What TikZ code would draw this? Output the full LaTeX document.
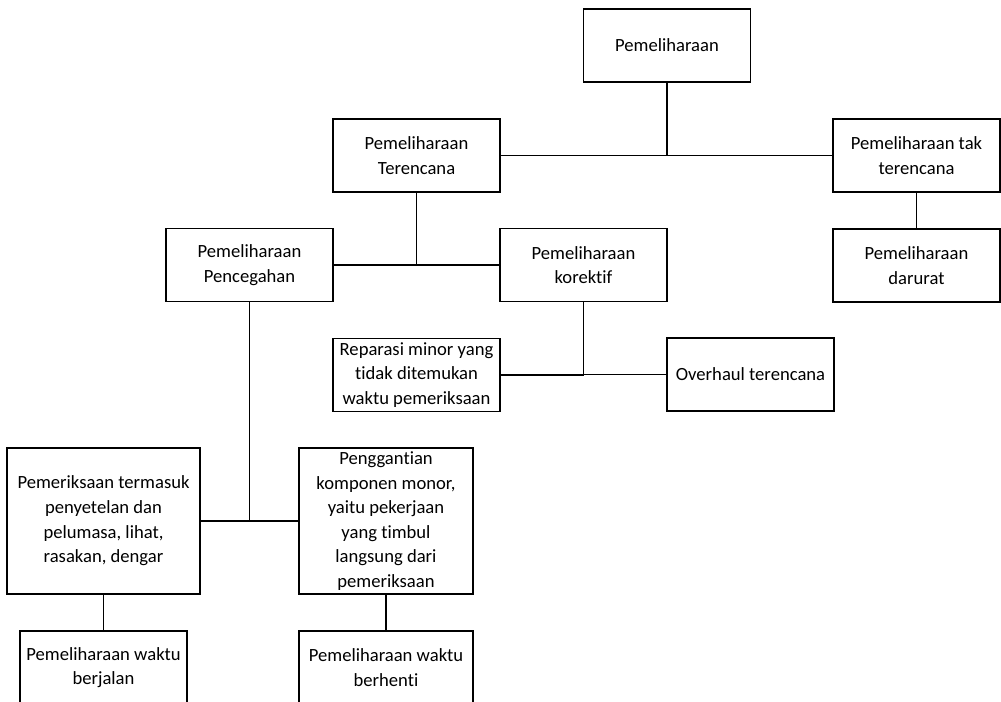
\documentclass[tikz,border=0pt]{standalone}
\usepackage{fontspec}
\setmainfont{Carlito}[Ligatures=NoCommon]
\usetikzlibrary{positioning}

\begin{document}
\begin{tikzpicture}[x=0.02cm, y=-0.02cm, line width=0.9pt,
  box/.style={draw, rectangle, inner sep=0pt, align=center,
    minimum width=3.34cm, minimum height=1.46cm,
    font=\fontsize{10.6}{14}\selectfont},
  tall/.style={box, minimum height=2.92cm}]
\useasboundingbox (0,0) rectangle (1001,702);
\clip (0,0) rectangle (1001,702);
\fill[white] (0,0) rectangle (1001,702);

\node[box] (root) at (667,45.5) {Pemeliharaan};
\node[box] (ter) at (416.5,155.5) {Pemeliharaan\\Terencana};
\node[box] (tak) at (916.5,155.5) {Pemeliharaan tak\\terencana};
\node[box] (pen) at (249.5,265) {Pemeliharaan\\Pencegahan};
\node[box] (kor) at (583.5,265) {Pemeliharaan\\korektif};
\node[box] (dar) at (916.5,265.5) {Pemeliharaan\\darurat};
\node[box] (rep) at (416.5,375) {Reparasi minor yang\\tidak ditemukan\\waktu pemeriksaan};
\node[box] (ovh) at (750.5,374.5) {Overhaul terencana};
\node[tall, minimum width=3.86cm] (per) at (103.5,521) {Pemeriksaan termasuk\\penyetelan dan\\pelumasa, lihat,\\rasakan, dengar};
\node[tall, minimum width=3.48cm] (ggt) at (386,521) {Penggantian\\komponen monor,\\yaitu pekerjaan\\yang timbul\\langsung dari\\pemeriksaan};
\node[box] (jal) at (103.5,667.5) {Pemeliharaan waktu\\berjalan};
\node[box, minimum width=3.48cm] (hen) at (386,667.5) {Pemeliharaan waktu\\berhenti};

% connectors
\draw (root.south) |- (ter.east);
\draw (root.south) |- (tak.west);
\draw (tak) -- (dar);
\draw (ter.south) |- (pen.east);
\draw (ter.south) |- (kor.west);
\draw (kor.south) |- (rep.east);
\draw (kor.south) |- (ovh.west);
\draw (pen.south) |- (per.east);
\draw (pen.south) |- (ggt.west);
\draw (per) -- (jal);
\draw (ggt) -- (hen);
\end{tikzpicture}
\end{document}
